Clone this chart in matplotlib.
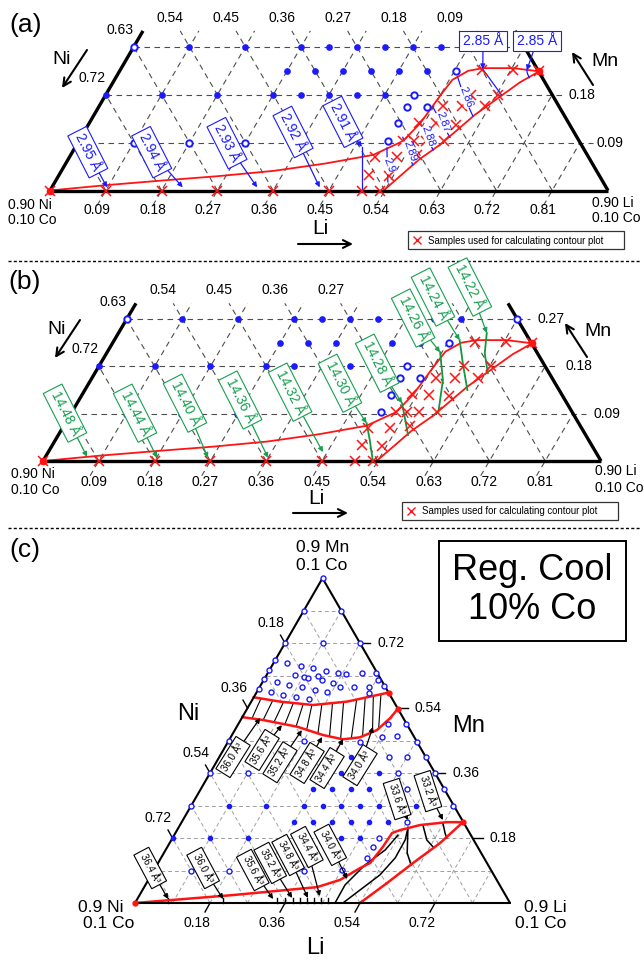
import numpy as np
import matplotlib

matplotlib.use("Agg")
import matplotlib.pyplot as plt
from matplotlib import font_manager
from matplotlib.patches import Polygon, Rectangle

plt.rcParams["font.family"] = ["Liberation Sans", "DejaVu Sans"]
HAVE_NARROW = any(f.name == "Liberation Sans Narrow" for f in font_manager.fontManager.ttflist)

BLUE = "#1a1aff"
RED = "#ff1414"
GREEN_T = "#17a050"
GREEN_L = "#14963c"
GRID_AB = "#4d4d4d"
GRID_C = "#a0a0a0"

# pixel frame of each ternary: Ni-corner x, y, px per unit Li, px per unit Mn (height)
GEOM = {"a": (50.0, 190.5, 620.0, 532.0),
        "b": (43.0, 461.0, 620.0, 525.6),
        "c": (135.0, 903.0, 416.7, 360.9)}
MTOP = 0.30  # panels a and b are cut at 0.30 Mn
STEPS = [0.09, 0.18, 0.27, 0.36, 0.45, 0.54, 0.63, 0.72, 0.81]

# ---------------------------------------------------------------- samples, panels a + b  (Li, Mn)
AB_FILLED = [(0.0, 0.18), (0.09, 0.27), (0.18, 0.27), (0.27, 0.27), (0.315, 0.27), (0.36, 0.27),
             (0.405, 0.27), (0.45, 0.27), (0.495, 0.27), (0.54, 0.27),
             (0.27, 0.225), (0.315, 0.225), (0.36, 0.225), (0.405, 0.225), (0.45, 0.225), (0.495, 0.225),
             (0.09, 0.18), (0.18, 0.18), (0.27, 0.18), (0.315, 0.18), (0.36, 0.18), (0.405, 0.18), (0.45, 0.18)]
AB_OPEN = [(0.0, 0.27), (0.63, 0.27), (0.542, 0.225), (0.497, 0.18), (0.497, 0.157), (0.53, 0.157),
           (0.498, 0.126), (0.498, 0.093), (0.09, 0.09), (0.18, 0.09), (0.27, 0.09)]
AB_X = [(0.0, 0.0), (0.09, 0.0), (0.18, 0.0), (0.27, 0.0), (0.36, 0.0), (0.45, 0.0), (0.503, 0.0), (0.532, 0.0),
        (0.4995, 0.030), (0.532, 0.028), (0.493, 0.063), (0.528, 0.063), (0.559, 0.066),
        (0.523, 0.093), (0.54, 0.093), (0.56, 0.093), (0.589, 0.093), (0.531, 0.127), (0.56, 0.126),
        (0.593, 0.124), (0.555, 0.158), (0.586, 0.158), (0.623, 0.158), (0.589, 0.18), (0.632, 0.18),
        (0.583, 0.227), (0.633, 0.227), (0.677, 0.224)]
AB_UP = [(0.0, 0.0), (0.085, 0.010), (0.174, 0.019), (0.258, 0.027), (0.343, 0.037), (0.42, 0.051),
         (0.488, 0.067), (0.523, 0.093), (0.534, 0.127), (0.540, 0.177), (0.545, 0.208), (0.562, 0.225),
         (0.584, 0.23), (0.632, 0.23), (0.677, 0.224)]
AB_LO = [(0.538, 0.0), (0.566, 0.058), (0.586, 0.086), (0.598, 0.11), (0.614, 0.142), (0.634, 0.171),
         (0.656, 0.203), (0.677, 0.224)]

# panel a: Li-Ni layer spacing contours
A_CONT = [("2.91", [(0.503, 0.0), (0.483, 0.04), (0.462, 0.082)]),
          ("2.9", [(0.537, 0.016), (0.52, 0.048), (0.5035, 0.08)]),
          ("2.89", [(0.561, 0.048), (0.54, 0.074), (0.519, 0.10)]),
          ("2.88", [(0.58, 0.076), (0.556, 0.102), (0.532, 0.129)]),
          ("2.87", [(0.595, 0.10), (0.567, 0.128), (0.539, 0.157)]),
          ("2.86", [(0.612, 0.14), (0.58, 0.176), (0.551, 0.213)]),
          ("2.85", [(0.638, 0.18), (0.61, 0.205), (0.584, 0.228)]),
          ("", [(0.667, 0.212), (0.66, 0.22), (0.656, 0.226)])]
A_INLINE = ["2.9", "2.89", "2.88", "2.87", "2.86"]
# label, text (Li, Mn), arrow head (Li, Mn)
A_TAGS = [("2.95 Å", 0.025, 0.072, 0.089, 0.006), ("2.94 Å", 0.128, 0.072, 0.211, 0.006),
          ("2.93 Å", 0.241, 0.089, 0.331, 0.006), ("2.92 Å", 0.337, 0.11, 0.432, 0.006),
          ("2.91 Å", 0.408, 0.129, 0.462, 0.082)]
A_TOP_TAGS = [("2.85 Å", 0.558, 0.281, 0.584, 0.228), ("2.85 Å", 0.645, 0.281, 0.656, 0.226)]

# panel b: c-lattice contours
B_CONT = [[(0.486, 0.072), (0.507, 0.04), (0.532, 0.0)],
          [(0.524, 0.11), (0.544, 0.08), (0.564, 0.0495)],
          [(0.537, 0.207), (0.568, 0.154), (0.592, 0.091)],
          [(0.557, 0.23), (0.586, 0.183), (0.617, 0.135)],
          [(0.594, 0.2435), (0.61, 0.205), (0.634, 0.167)]]
B_TAGS = [("14.48 Å", -0.01, 0.091, 0.067, 0.008), ("14.44 Å", 0.103, 0.091, 0.181, 0.006),
          ("14.40 Å", 0.174, 0.11, 0.263, 0.006), ("14.36 Å", 0.26, 0.116, 0.36, 0.006),
          ("14.32 Å", 0.333, 0.131, 0.443, 0.017), ("14.30 Å", 0.405, 0.148, 0.486, 0.072),
          ("14.28 Å", 0.446, 0.186, 0.524, 0.11), ("14.26 Å", 0.461, 0.272, 0.537, 0.207),
          ("14.24 Å", 0.473, 0.312, 0.557, 0.23), ("14.22 Å", 0.523, 0.331, 0.594, 0.2435)]

# ---------------------------------------------------------------- panel c (Li, Mn)
C_OPEN = [(0, 0.9), (0, 0.81), (0.09, 0.81), (0, 0.72), (0.09, 0.72), (0.18, 0.72), (0, 0.673), (0, 0.645),
          (0, 0.62), (0, 0.593), (0.032, 0.665), (0.07, 0.657), (0.102, 0.651), (0.137, 0.643), (0.168, 0.637),
          (0.189, 0.634), (0.226, 0.637), (0.259, 0.637), (0.274, 0.618), (0.297, 0.601), (0.068, 0.632),
          (0.093, 0.626), (0.103, 0.623), (0.125, 0.629), (0.14, 0.618), (0.17, 0.61), (0.193, 0.598),
          (0.227, 0.598), (0.263, 0.598), (0.271, 0.582), (0.035, 0.612), (0.068, 0.604), (0.102, 0.598),
          (0.137, 0.59), (0.168, 0.585), (0.034, 0.585), (0.067, 0.576), (0.1, 0.571), (0.135, 0.565),
          (0, 0.45), (0, 0.36), (0.09, 0.36), (0.18, 0.45), (0, 0.27),
          (0.359, 0.496), (0.402, 0.496), (0.363, 0.46), (0.398, 0.463), (0.454, 0.446), (0.317, 0.446),
          (0.407, 0.405), (0.45, 0.405), (0.495, 0.405), (0.45, 0.36), (0.54, 0.36), (0.495, 0.315),
          (0.585, 0.315), (0.628, 0.27), (0.54, 0.225), (0.495, 0.18), (0.493, 0.155), (0.495, 0.125),
          (0.451, 0.091), (0.09, 0.09), (0.18, 0.09), (0.36, 0.09)]
C_FILLED = [(0.315, 0.405), (0.36, 0.405),
            (0.27, 0.36), (0.315, 0.36), (0.36, 0.36), (0.405, 0.36),
            (0.27, 0.315), (0.315, 0.315), (0.36, 0.315), (0.405, 0.315),
            (0.09, 0.27), (0.18, 0.27), (0.27, 0.27), (0.315, 0.27), (0.36, 0.27), (0.405, 0.27),
            (0.45, 0.27), (0.495, 0.27), (0.54, 0.27),
            (0.27, 0.225), (0.315, 0.225), (0.36, 0.225), (0.405, 0.225), (0.45, 0.225), (0.495, 0.225),
            (0.0, 0.18), (0.09, 0.18), (0.18, 0.18), (0.27, 0.18), (0.36, 0.18), (0.405, 0.18), (0.45, 0.18)]
C_BAND_UP_L = [0.0, 0.069, 0.153, 0.23, 0.284, 0.317]
C_BAND_UP_M = [0.57, 0.558, 0.5486, 0.558, 0.5736, 0.583]
C_BAND_LO_L = [0.0, 0.054, 0.145, 0.218, 0.272, 0.31, 0.341, 0.356, 0.362]
C_BAND_LO_M = [0.515, 0.507, 0.4885, 0.4655, 0.4536, 0.459, 0.479, 0.512, 0.538]
# contour lines crossing the band: Li where they meet the upper / lower red curve
C_BAND_LINES = [(0.019, 0.025), (0.05, 0.054), (0.078, 0.083), (0.103, 0.112), (0.128, 0.142),
                (0.15, 0.172), (0.173, 0.204), (0.197, 0.236), (0.222, 0.266), (0.25, 0.291),
                (0.268, 0.315), (0.285, 0.333), (0.301, 0.343)]
C_LOW_UP = [(0.0, 0.0), (0.224, 0.022), (0.415, 0.044), (0.46, 0.064), (0.492, 0.097), (0.509, 0.111),
            (0.517, 0.155), (0.52, 0.194), (0.535, 0.202), (0.576, 0.216), (0.637, 0.224), (0.675, 0.224)]
C_LOW_LO = [(0.54, 0.0), (0.577, 0.055), (0.612, 0.111), (0.649, 0.166), (0.675, 0.224)]
C_LOW_CONT = [[(0.48, 0.0), (0.479, 0.05), (0.499, 0.105), (0.527, 0.147), (0.537, 0.188)],
              [(0.499, 0.0), (0.522, 0.036), (0.549, 0.078), (0.562, 0.125), (0.561, 0.175), (0.551, 0.208)],
              [(0.55, 0.21), (0.584, 0.1385), (0.61, 0.105)],
              [(0.583, 0.216), (0.613, 0.1746), (0.638, 0.155)],
              [(0.628, 0.2217), (0.647, 0.194), (0.658, 0.18)]]
C_TICKS = [0.079, 0.211, 0.341, 0.36, 0.379, 0.396, 0.413, 0.43, 0.446, 0.463]
C_TAGS_UP = [("36.0 Å³", 0.033, 0.4045, 0.044, 0.5126), ("35.6 Å³", 0.093, 0.424, 0.106, 0.493),
             ("35.2 Å³", 0.153, 0.39, 0.161, 0.479), ("34.8 Å³", 0.219, 0.388, 0.219, 0.46),
             ("34.4 Å³", 0.274, 0.374, 0.272, 0.4545), ("34.0 Å³", 0.349, 0.382, 0.327, 0.488)]
C_TAGS_LO = [("36.4 Å³", -0.012, 0.097, 0.074, 0.011), ("36.0 Å³", 0.115, 0.097, 0.206, 0.011),
             ("35.6 Å³", 0.237, 0.0914, 0.326, 0.011), ("35.2 Å³", 0.269, 0.111, 0.37, 0.014),
             ("34.8 Å³", 0.301, 0.133, 0.408, 0.014), ("34.4 Å³", 0.335, 0.155, 0.434, 0.019),
             ("34.0 Å³", 0.388, 0.161, 0.476, 0.0665)]
C_TAGS_R = [("33.6 Å³", 0.485, 0.288, 0.54, 0.23), ("33.2 Å³", 0.548, 0.31, 0.624, 0.23)]


def T(p, l, m):
    x0, y0, sx, sy = GEOM[p]
    l = np.asarray(l, float)
    m = np.asarray(m, float)
    return x0 + sx * (l + m / 2), y0 - sy * m


fig = plt.figure(figsize=(6.44, 9.6), dpi=100)
ax = fig.add_axes([0, 0, 1, 1])
ax.set_xlim(0, 644)
ax.set_ylim(960, 0)
ax.axis("off")


def line(p, pts, **kw):
    l, m = zip(*pts)
    x, y = T(p, l, m)
    ax.plot(x, y, **kw)


def marks(p, pts, **kw):
    l, m = zip(*pts)
    x, y = T(p, l, m)
    ax.plot(x, y, ls="none", **kw)


def tag(p, text, lt, mt, lh, mh, rot, tcol, ecol, fs, pad=0.25):
    ax.annotate(text, xy=T(p, lh, mh), xytext=T(p, lt, mt), ha="center", va="center",
                rotation=rot, rotation_mode="anchor", fontsize=fs, color=tcol, zorder=8,
                bbox=dict(boxstyle=f"square,pad={pad}", fc="white", ec=ecol, lw=0.8),
                arrowprops=dict(arrowstyle="-|>", color=ecol, lw=0.9, mutation_scale=7,
                                shrinkA=0, shrinkB=0), annotation_clip=False)


def txt(x, y, s, **kw):
    kw.setdefault("fontsize", 10)
    kw.setdefault("ha", "center")
    kw.setdefault("va", "center")
    ax.text(x, y, s, **kw)


def arrow(x0, y0, x1, y1, lw=1.5, ms=14):
    ax.annotate("", xy=(x1, y1), xytext=(x0, y0),
                arrowprops=dict(arrowstyle="->", lw=lw, color="black", mutation_scale=ms,
                                shrinkA=0, shrinkB=0))


# ================================================================ panels a and b (truncated ternaries)
grid_ab = dict(color=GRID_AB, lw=0.8, dashes=(5, 4), zorder=1)


def frame_ab(p, right_vals, top_vals, blab_dx, blab_dy, rlab_dx):
    for c in STEPS:
        line(p, [(c, -0.028), (c, min(0.9 - c, MTOP))], **grid_ab)
        mt = min(c, MTOP)
        line(p, [(c, 0), (c - mt, mt)], **grid_ab)
    for c in (0.09, 0.18, 0.27):
        line(p, [(0, c), (0.9 - c + 0.02, c)], **grid_ab)
    for pts in ([(0, 0), (0.9, 0)], [(0, 0), (0, MTOP)], [(0.9, 0), (0.9 - MTOP, MTOP)]):
        line(p, pts, color="black", lw=2.4, zorder=4, solid_capstyle="butt")
    for c in STEPS:
        x, y = T(p, c, 0)
        txt(x + blab_dx, y + blab_dy, f"{c:.2f}")
    for c in top_vals:
        x, y = T(p, 0.9 - c - 0.325, 0.325)
        txt(x - 2, y, f"{c:.2f}")
    for c in (0.63, 0.72):
        x, y = T(p, 0, 0.9 - c)
        txt(x - 14, y - 17, f"{c:.2f}")
    for c in right_vals:
        x, y = T(p, 0.9 - c, c)
        txt(x + rlab_dx, y, f"{c:.2f}", ha="left")


def samples_ab(p):
    line(p, AB_UP, color=RED, lw=1.3, zorder=3)
    line(p, AB_LO, color=RED, lw=1.3, zorder=3)
    marks(p, AB_FILLED, marker="o", ms=3.8, color=BLUE, zorder=5)
    marks(p, AB_OPEN, marker="o", ms=4.6, mfc="white", mec=BLUE, mew=1.4, zorder=5)
    marks(p, AB_X, marker="x", ms=6.5, mew=1.1, color=RED, zorder=5)
    marks(p, [AB_X[0], AB_X[-1]], marker="o", ms=4.5, color=RED, zorder=5)


def legend_box(x, y):
    ax.add_patch(Rectangle((x, y), 216, 18, fill=False, ec="#333333", lw=0.9))
    ax.plot([x + 9], [y + 9], marker="x", ms=6, mew=1.0, color=RED)
    fam = ["Liberation Sans Narrow", "Liberation Sans"] if HAVE_NARROW else ["Liberation Sans"]
    ax.text(x + 20, y + 9.5, "Samples used for calculating contour plot", ha="left", va="center",
            fontsize=8.3 if HAVE_NARROW else 6.9, family=fam)


# ---- panel a
frame_ab("a", (0.18, 0.09), (0.54, 0.45, 0.36, 0.27, 0.18, 0.09), -9, 20, 16)
samples_ab("a")
for name, pts in A_CONT:
    line("a", pts, color=BLUE, lw=0.9, zorder=3)
    if name in A_INLINE:
        xm, ym = T("a", *pts[1])
        ax.text(xm + 2, ym, name, rotation=-70, ha="center", va="center", fontsize=8, color=BLUE,
                zorder=6, bbox=dict(boxstyle="square,pad=0.02", fc="white", ec="none"))
for t in A_TAGS:
    tag("a", *t, rot=-63, tcol=BLUE, ecol=BLUE, fs=10)
for t in A_TOP_TAGS:
    tag("a", *t, rot=0, tcol=BLUE, ecol=BLUE, fs=10)
txt(8, 205, "0.90 Ni", ha="left")
txt(8, 220, "0.10 Co", ha="left")
txt(592, 203, "0.90 Li", ha="left")
txt(592, 218, "0.10 Co", ha="left")
txt(26, 25, "(a)", fontsize=19)
txt(62, 59, "Ni", fontsize=14)
arrow(87, 50, 62, 88)
txt(605, 61, "Mn", fontsize=14)
arrow(593, 85, 572, 52)
txt(320, 229, "Li", fontsize=15)
arrow(298, 244, 353, 244)
legend_box(408, 231)

ax.plot([8, 640], [261, 261], color="black", lw=1.0, dashes=(2.2, 1.6))

# ---- panel b
frame_ab("b", (0.27, 0.18, 0.09), (0.54, 0.45, 0.36, 0.27), -5, 21, 20)
samples_ab("b")
for pts in B_CONT:
    line("b", pts, color=GREEN_L, lw=1.3, zorder=3)
for t in B_TAGS:
    tag("b", *t, rot=-63, tcol=GREEN_T, ecol=GREEN_T, fs=10)
txt(11, 474, "0.90 Ni", ha="left")
txt(11, 490, "0.10 Co", ha="left")
txt(595, 471, "0.90 Li", ha="left")
txt(595, 488, "0.10 Co", ha="left")
txt(25, 282, "(b)", fontsize=19)
txt(57, 330, "Ni", fontsize=14)
arrow(80, 320, 55, 358)
txt(598, 331, "Mn", fontsize=14)
arrow(587, 357, 565, 323)
txt(316, 498, "Li", fontsize=15)
arrow(293, 513, 348, 513)
legend_box(402, 502)

ax.plot([8, 640], [528, 528], color="black", lw=1.0, dashes=(2.2, 1.6))

# ================================================================ panel c (full ternary)
grid_c = dict(color=GRID_C, lw=0.7, dashes=(4, 3), zorder=1)
for c in STEPS:
    line("c", [(0, c), (0.9 - c, c)], **grid_c)
    line("c", [(c, 0), (c, 0.9 - c)], **grid_c)
    line("c", [(c, 0), (0, c)], **grid_c)

# band between the two upper red curves hides the grid
bx1, by1 = T("c", C_BAND_UP_L, C_BAND_UP_M)
bx2, by2 = T("c", C_BAND_LO_L, C_BAND_LO_M)
ax.add_patch(Polygon(np.column_stack([np.r_[bx1, bx2[::-1]], np.r_[by1, by2[::-1]]]),
                     closed=True, fc="white", ec="none", zorder=2))
for lt, lb in C_BAND_LINES:
    mt = np.interp(lt, C_BAND_UP_L, C_BAND_UP_M)
    mb = np.interp(lb, C_BAND_LO_L, C_BAND_LO_M)
    line("c", [(lt, mt), (lb, mb)], color="black", lw=0.8, zorder=3)
for pts in C_LOW_CONT:
    line("c", pts, color="black", lw=1.1, zorder=3)
for lv in C_TICKS:
    line("c", [(lv, 0), (lv - 0.0075, 0.015)], color="black", lw=1.0, zorder=3)

ax.plot(bx1, by1, color=RED, lw=1.8, zorder=4)
ax.plot(bx2, by2, color=RED, lw=1.8, zorder=4)
line("c", C_LOW_UP, color=RED, lw=1.8, zorder=4)
line("c", C_LOW_LO, color=RED, lw=1.8, zorder=4)
marks("c", [(C_BAND_UP_L[-1], C_BAND_UP_M[-1]), (C_BAND_LO_L[-1], C_BAND_LO_M[-1]), (0, 0),
            C_LOW_LO[-1]], marker="o", ms=3.5, color=RED, zorder=5)

for pts in ([(0, 0), (0.9, 0)], [(0, 0), (0, 0.9)], [(0.9, 0), (0, 0.9)]):
    line("c", pts, color="black", lw=1.5, zorder=4, solid_capstyle="round")

marks("c", C_FILLED, marker="o", ms=3.0, color=BLUE, zorder=5)
marks("c", C_OPEN, marker="o", ms=3.6, mfc="white", mec=BLUE, mew=1.0, zorder=5)

for t in C_TAGS_UP:
    tag("c", *t, rot=58, tcol="black", ecol="black", fs=7, pad=0.35)
for t in C_TAGS_LO:
    tag("c", *t, rot=-62, tcol="black", ecol="black", fs=7, pad=0.35)
for t in C_TAGS_R:
    tag("c", *t, rot=-72, tcol="black", ecol="black", fs=7, pad=0.35)

# edge ticks and labels
for c in (0.18, 0.36, 0.54, 0.72):
    x, y = T("c", 0, 0.9 - c)            # Ni on the left edge
    ax.plot([x, x - 4.5], [y, y - 8], color="black", lw=1.0)
    txt(x - 14, y - 20, f"{c:.2f}")
    x, y = T("c", 0.9 - c, c)            # Mn on the right edge
    ax.plot([x, x + 10], [y, y], color="black", lw=1.0)
    txt(x + 17, y, f"{c:.2f}", ha="left")
    x, y = T("c", c, 0)                  # Li on the base
    ax.plot([x, x - 5], [y, y + 9], color="black", lw=1.0)
    txt(x - 13, y + 20, f"{c:.2f}")

txt(323, 548, "0.9 Mn", fontsize=12.5)
txt(322, 565, "0.1 Co", fontsize=12.5)
txt(101, 907, "0.9 Ni", fontsize=12.5)
txt(109, 924, "0.1 Co", fontsize=12.5)
txt(545, 907, "0.9 Li", fontsize=12.5)
txt(541, 924, "0.1 Co", fontsize=12.5)
txt(188, 714, "Ni", fontsize=17)
txt(469, 726, "Mn", fontsize=17)
txt(315, 948, "Li", fontsize=17)
txt(25, 550, "(c)", fontsize=19)

ax.add_patch(Rectangle((439, 541), 187, 100, fill=False, ec="black", lw=1.4))
txt(532, 590, "Reg. Cool\n10% Co", fontsize=26, linespacing=1.15)

fig.savefig("out.png", dpi=100)
